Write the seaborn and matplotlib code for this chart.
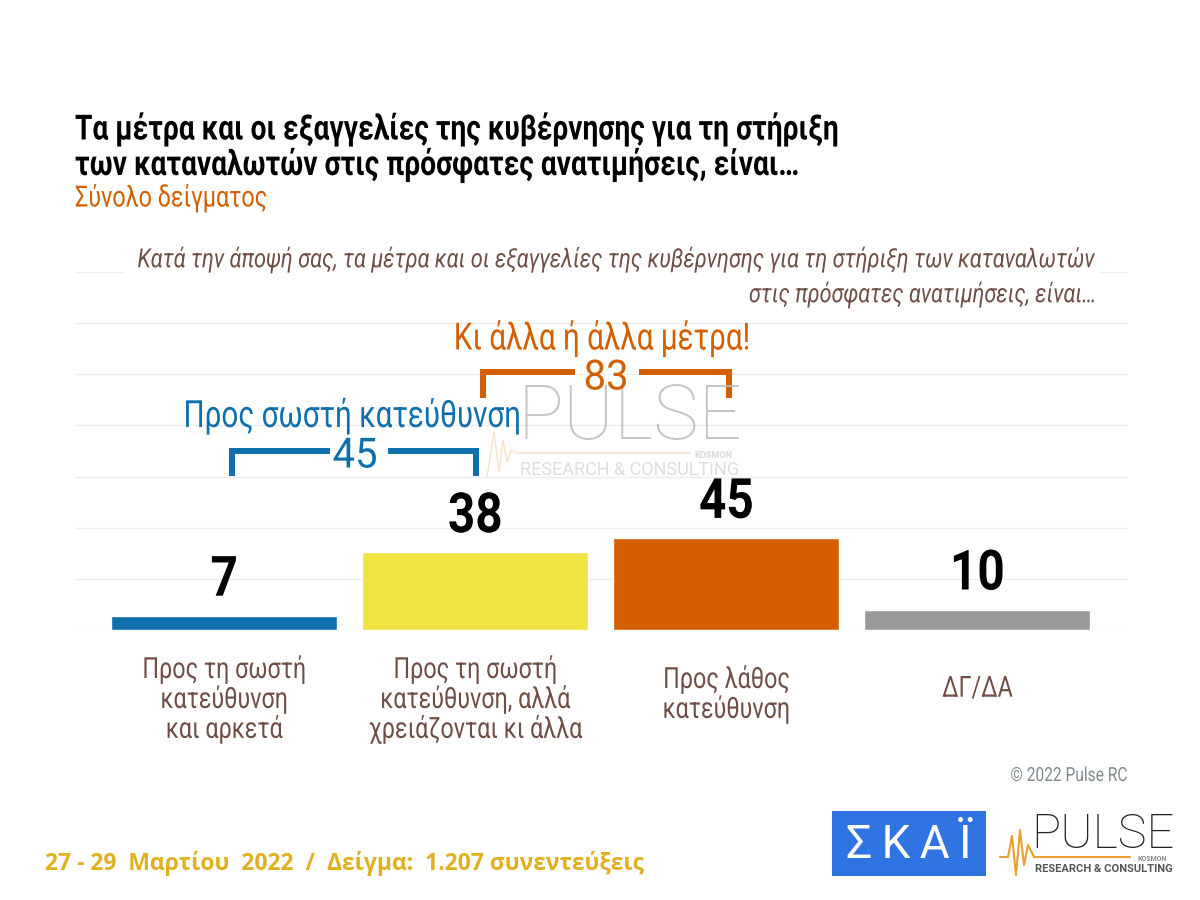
import matplotlib
matplotlib.use("Agg")
import matplotlib.pyplot as plt
import matplotlib.patheffects as pe
from matplotlib.transforms import Affine2D, Bbox
import pandas as pd
import seaborn as sns

categories = ["Προς τη σωστή\nκατεύθυνση\nκαι αρκετά",
              "Προς τη σωστή\nκατεύθυνση, αλλά\nχρειάζονται κι άλλα",
              "Προς λάθος\nκατεύθυνση",
              "ΔΓ/ΔΑ"]
values = [7, 38, 45, 10]
bar_colors = ["#0f6fad", "#f0e442", "#d35f00", "#999999"]
grid_ticks = [0, 25, 50, 75, 100, 125, 150, 175]

sns.set_theme(style="white")
plt.rcParams["font.family"] = ["Roboto", "DejaVu Sans"]

BROWN = "#6f4e46"
BLUE = "#0f6fad"
ORANGE = "#d35f00"


# no condensed font is installed, so squeeze the glyphs sideways around the text anchor
class Squeeze(pe.AbstractPathEffect):
    def __init__(self, text, sx):
        super().__init__()
        self.text = text
        self.sx = sx

    def draw_path(self, renderer, gc, tpath, affine, rgbFace=None):
        x0 = anchor_x(self.text)
        squeeze = Affine2D().translate(-x0, 0).scale(self.sx, 1).translate(x0, 0)
        renderer.draw_path(gc, tpath, affine + squeeze, rgbFace)


def anchor_x(t):
    return t.get_transform().transform(t.get_unitless_position())[0]


def condense(t, sx):
    t.set_path_effects([Squeeze(t, sx)])
    full_extent = t.get_window_extent

    def extent(*args, **kwargs):
        bb = full_extent(*args, **kwargs)
        x0 = anchor_x(t)
        return Bbox.from_extents(x0 + (bb.x0 - x0) * sx, bb.y0, x0 + (bb.x1 - x0) * sx, bb.y1)

    t.get_window_extent = extent
    return t


fig = plt.figure(figsize=(12, 9), dpi=100, facecolor="white")

# axes box taken from the gridline positions in the picture
ax = fig.add_axes([75 / 1200, 1 - 630 / 900, 1053 / 1200, 358 / 900])
df = pd.DataFrame({"cat": categories, "val": values})
sns.barplot(data=df, x="cat", y="val", hue="cat", palette=bar_colors, legend=False,
            width=0.9, saturation=1, ax=ax)
ax.set_xlim(-0.594, 3.60)
ax.set_ylim(0, 175)
ax.set_yticks(grid_ticks)
ax.set_yticklabels([])
ax.set_xlabel("")
ax.set_ylabel("")
ax.grid(axis="y", color="#eeeeee", lw=1)
ax.set_axisbelow(True)
sns.despine(ax=ax, left=True, bottom=True)
ax.tick_params(axis="both", length=0)
ax.set_xticks(range(4))
ax.set_xticklabels(categories, fontsize=21, color=BROWN, linespacing=1.04, va="center")
ax.tick_params(axis="x", pad=50)
for label, shift in zip(ax.get_xticklabels(), [0, 0, 0.014, 0.03]):
    label.set_y(shift)
    condense(label, 0.8)

for container in ax.containers:
    for lab in ax.bar_label(container, fontsize=40, fontweight="bold", color="black", padding=6.5):
        condense(lab, 0.86)

# overlay in pixel coordinates for the annotations
ov = fig.add_axes([0, 0, 1, 1], zorder=5)
ov.set_xlim(0, 1200)
ov.set_ylim(900, 0)
ov.axis("off")

condense(ov.text(75, 129, "Τα μέτρα και οι εξαγγελίες της κυβέρνησης για τη στήριξη", fontsize=25,
                 fontweight="bold", color="black", va="center"), 0.81)
condense(ov.text(75, 165, "των καταναλωτών στις πρόσφατες ανατιμήσεις, είναι…", fontsize=25,
                 fontweight="bold", color="black", va="center"), 0.81)
condense(ov.text(75, 198, "Σύνολο δείγματος", fontsize=21, color=ORANGE, va="center"), 0.8)

# question text sits on a white strip that interrupts the top gridline
ov.add_patch(plt.Rectangle((125, 262), 975, 20, facecolor="white", edgecolor="none"))
condense(ov.text(616, 260, "Κατά την άποψή σας, τα μέτρα και οι εξαγγελίες της κυβέρνησης για τη στήριξη των καταναλωτών",
                 fontsize=19, style="italic", color=BROWN, ha="center", va="center"), 0.825)
condense(ov.text(1096, 295, "στις πρόσφατες ανατιμήσεις, είναι…", fontsize=19, style="italic",
                 color=BROWN, ha="right", va="center"), 0.82)

# watermark
ov.text(630, 418, "PULSE", fontsize=55, color="#bcbcbc", ha="center", va="center",
        fontweight="light", alpha=0.85)
ov.text(630, 470, "RESEARCH & CONSULTING", fontsize=13, color="#dadada", ha="center", va="center", alpha=0.9)
ov.text(713, 455, "KOSMON", fontsize=6.5, fontweight="bold", color="#d8d8d8", ha="center", va="center")
ov.plot([487, 494, 499, 503, 507, 511, 516, 525, 690],
        [477, 432, 472, 440, 462, 450, 453, 453, 453], color="#f7e3c8", lw=1)

# brackets
ov.plot([232, 232, 330], [476, 451, 451], color=BLUE, lw=4.3, solid_joinstyle="miter", solid_capstyle="butt")
ov.plot([388, 476, 476], [451, 451, 476], color=BLUE, lw=4.3, solid_joinstyle="miter", solid_capstyle="butt")
condense(ov.text(355, 456, "45", fontsize=30, color=BLUE, ha="center", va="center"), 0.96)
condense(ov.text(352, 416, "Προς σωστή κατεύθυνση", fontsize=27, color=BLUE, ha="center", va="center"), 0.79)

ov.plot([483, 483, 575], [398, 372, 372], color=ORANGE, lw=4.3, solid_joinstyle="miter", solid_capstyle="butt")
ov.plot([639, 729, 729], [372, 372, 398], color=ORANGE, lw=4.3, solid_joinstyle="miter", solid_capstyle="butt")
condense(ov.text(606, 378, "83", fontsize=30, color=ORANGE, ha="center", va="center"), 0.96)
condense(ov.text(602, 338, "Κι άλλα ή άλλα μέτρα!", fontsize=27, color=ORANGE, ha="center", va="center"), 0.79)

# footer
condense(ov.text(1128, 776, "© 2022 Pulse RC", fontsize=14, color="#808a8f", ha="right", va="center"), 0.8)
ov.text(45, 863, "27 - 29  Μαρτίου  2022  /  Δείγμα:  1.207 συνεντεύξεις", fontsize=16.5,
        fontweight="bold", color="#e0b020", va="center", family="Open Sans")

# logos
ov.add_patch(plt.Rectangle((832, 811), 154, 65, facecolor="#2f74e0", edgecolor="none"))
ov.text(909, 845, "Σ\u2009Κ\u2009Α\u2009Ϊ", fontsize=33, color="white", ha="center", va="center")
ov.text(1103, 835, "PULSE", fontsize=35, color="#222222", ha="center", va="center", fontweight="light")
ov.text(1104, 869, "RESEARCH & CONSULTING", fontsize=8, color="#555555", ha="center", va="center",
        fontweight="bold")
ov.text(1152, 859, "KOSMON", fontsize=5, color="#888888", ha="center", va="center", fontweight="bold")
ov.plot([1000, 1008, 1012, 1016, 1020, 1024, 1028, 1034, 1130],
        [857, 857, 836, 875, 830, 865, 845, 857, 857], color="#e8a030", lw=1.5)

fig.savefig("out.png", dpi=100, facecolor="white")
